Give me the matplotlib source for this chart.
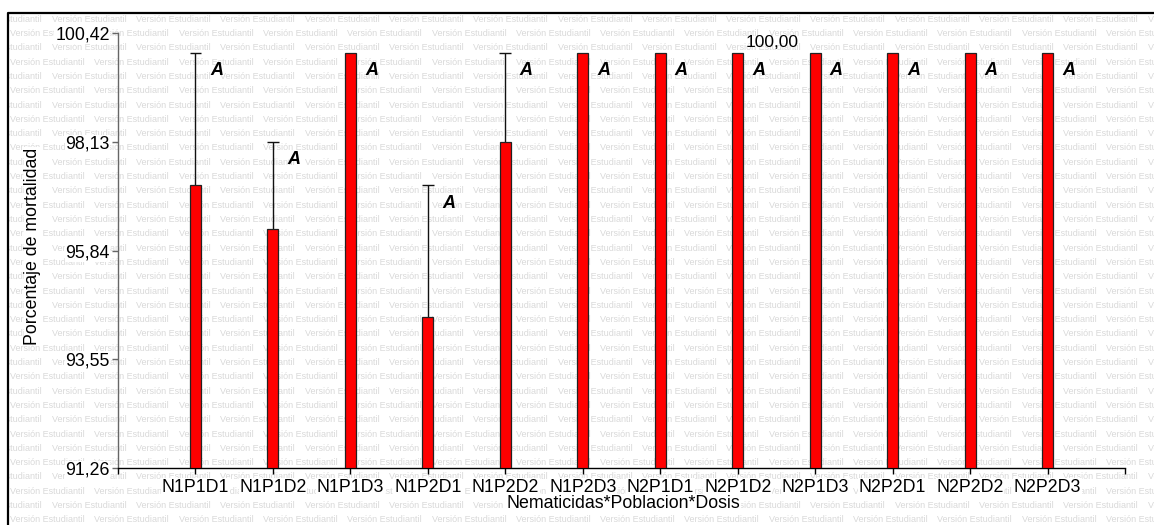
import matplotlib
matplotlib.use("Agg")
import matplotlib.pyplot as plt
from matplotlib.lines import Line2D
import numpy as np

# ---- data ----
categories = ["N1P1D1", "N1P1D2", "N1P1D3", "N1P2D1", "N1P2D2", "N1P2D3",
              "N2P1D1", "N2P1D2", "N2P1D3", "N2P2D1", "N2P2D2", "N2P2D3"]
means = [97.22, 96.29, 100.00, 94.45, 98.13, 100.00,
         100.00, 100.00, 100.00, 100.00, 100.00, 100.00]
errors_up = [2.78, 1.84, 0.0, 2.76, 1.87, 0.0,
             0.0, 0.0, 0.0, 0.0, 0.0, 0.0]
letters = ["A"] * 12
yticks = [91.26, 93.55, 95.84, 98.13, 100.42]
ytick_labels = ["91,26", "93,55", "95,84", "98,13", "100,42"]
extra_label = "100,00"
extra_label_pos = (8.44, 100.21)
watermark = "Versión Estudiantil"

FONT = "Liberation Sans"
W, H = 1154, 525
fig = plt.figure(figsize=(W / 100, H / 100), dpi=100)
fig.patch.set_facecolor("white")

# ---- watermark background ----
bg = fig.add_axes([8 / W, 0, 1, (H - 13) / H])
bg.set_xlim(8, 8 + W)
bg.set_ylim(H, 13)
bg.axis("off")
bg.set_zorder(0)
period = 84.3
row_h = 14.3
y = 19.3
row = 0
while y < H + 10:
    start = -32.6 if row % 2 == 0 else 10.0
    x = start
    while x < W + 10:
        bg.text(x, y, watermark, fontsize=6.5, family=FONT, color="#d9d9d9",
                ha="left", va="center", clip_on=True)
        x += period
    y += row_h
    row += 1

# ---- main axes ----
L, R, T, B = 118, 1125, 33, 468
ax = fig.add_axes([L / W, 1 - B / H, (R - L) / W, (B - T) / H])
ax.set_zorder(1)
ax.patch.set_alpha(0)

xpos = np.arange(1, len(categories) + 1)
ax.bar(xpos, np.array(means) - yticks[0], bottom=yticks[0], width=0.142,
       color="#ff0000", edgecolor="#222222", linewidth=0.9, zorder=3)

cap_half = 0.075
for xi, m, e in zip(xpos, means, errors_up):
    if e > 0:
        ax.vlines(xi, m, m + e, color="#111111", linewidth=1.0, zorder=2)
        ax.hlines(m + e, xi - cap_half, xi + cap_half, color="#111111",
                  linewidth=1.0, zorder=2)

for xi, m, e, lt in zip(xpos, means, errors_up, letters):
    ax.annotate(lt, xy=(xi, m + e), xytext=(21, -18), textcoords="offset pixels",
                ha="center", va="center", fontsize=13, fontweight="bold",
                fontstyle="italic", family=FONT, color="black", zorder=4)

ax.text(extra_label_pos[0], extra_label_pos[1], extra_label, ha="center",
        va="center", fontsize=12.5, family=FONT, color="black", zorder=4)

ax.set_xlim(0, len(categories) + 1)
ax.set_ylim(yticks[0], yticks[-1])
ax.set_yticks(yticks)
ax.set_yticklabels(ytick_labels)
ax.set_xticks(list(range(0, len(categories) + 2)))
ax.set_xticklabels([""] + categories + [""])

for s in ["top", "right"]:
    ax.spines[s].set_visible(False)
ax.spines["left"].set_color("#666666")
ax.spines["left"].set_linewidth(1.0)
ax.spines["bottom"].set_color("black")
ax.spines["bottom"].set_linewidth(1.0)
ax.tick_params(axis="y", length=4, width=1, color="#666666", pad=2,
               labelsize=12.8)
ax.tick_params(axis="x", length=4, width=1, color="black", pad=4,
               labelsize=12.8)
for lbl in ax.get_xticklabels() + ax.get_yticklabels():
    lbl.set_family(FONT)
    lbl.set_bbox(dict(facecolor="white", edgecolor="none", pad=0.5))

fig.text(623 / W, 1 - 503 / H, "Nematicidas*Poblacion*Dosis", ha="center",
         va="center", fontsize=12.8, family=FONT, zorder=5,
         bbox=dict(facecolor="white", edgecolor="none", pad=0.5))
fig.text(33 / W, 1 - 246 / H, "Porcentaje de mortalidad", ha="center",
         va="center", rotation=90, fontsize=12.8, family=FONT, zorder=5,
         bbox=dict(facecolor="white", edgecolor="none", pad=0.5))

# ---- figure border (top and left) ----
fig.add_artist(Line2D([8 / W, 8 / W, 1.0], [0.0, 1 - 13 / H, 1 - 13 / H],
                      transform=fig.transFigure, color="black", linewidth=1.6,
                      zorder=10))

fig.savefig("out.png", dpi=100)
